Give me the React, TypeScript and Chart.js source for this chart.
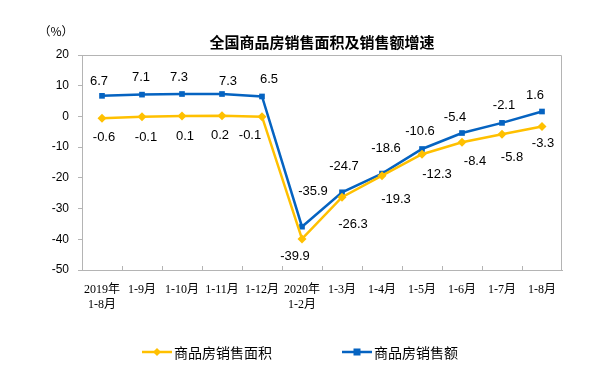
import React, { useEffect, useRef } from "react";
import { Chart, registerables } from "chart.js";

Chart.register(...registerables);

const categories: (string | string[])[] = [
  ["2019年", "1-8月"], "1-9月", "1-10月", "1-11月", "1-12月",
  ["2020年", "1-2月"], "1-3月", "1-4月", "1-5月", "1-6月", "1-7月", "1-8月",
];
const areaName = "商品房销售面积";
const amountName = "商品房销售额";
const areaValues = [-0.6, -0.1, 0.1, 0.2, -0.1, -39.9, -26.3, -19.3, -12.3, -8.4, -5.8, -3.3];
const amountValues = [6.7, 7.1, 7.3, 7.3, 6.5, -35.9, -24.7, -18.6, -10.6, -5.4, -2.1, 1.6];
const titleText = "全国商品房销售面积及销售额增速";
const unitText = "（%）";

const YELLOW = "#FFC000";
const BLUE = "#0563C1";
const GREY = "#B4B4B4";

// label offsets (style): [dx, dy] per point
const areaLabelOffsets = [[2, 19], [4, 21], [3, 20], [-2, 20], [-12, 19], [-7, 17], [11, 27], [14, 24], [15, 20], [13, 19], [10, 23], [1, 17]];
const amountLabelOffsets = [[-3, -14], [-1, -17], [-3, -17], [6, -13], [7, -17], [11, -35], [2, -26], [4, -25], [-2, -18], [-7, -16], [2, -17], [-7, -16]];

const decorPlugin = {
  id: "decor",
  afterDraw(chart: any) {
    const ctx = chart.ctx;
    const ca = chart.chartArea;
    const xs = chart.scales.x;
    ctx.save();
    // frame top and right
    ctx.strokeStyle = GREY;
    ctx.lineWidth = 1;
    ctx.beginPath();
    ctx.moveTo(ca.left, ca.top + 0.5);
    ctx.lineTo(ca.right - 0.5, ca.top + 0.5);
    ctx.lineTo(ca.right - 0.5, ca.bottom);
    ctx.stroke();
    // inner x ticks between categories
    const n = categories.length;
    const step = (ca.right - ca.left) / n;
    ctx.beginPath();
    for (let i = 1; i < n; i++) {
      const x = Math.round(xs.getPixelForValue(i) - step / 2) + 0.5;
      ctx.moveTo(x, ca.bottom);
      ctx.lineTo(x, ca.bottom - 4);
    }
    ctx.stroke();

    // data labels
    ctx.fillStyle = "#000";
    ctx.font = "13px 'Liberation Sans', Arial, sans-serif";
    ctx.textAlign = "center";
    ctx.textBaseline = "middle";
    const offs = [areaLabelOffsets, amountLabelOffsets];
    chart.data.datasets.forEach((ds: any, di: number) => {
      const meta = chart.getDatasetMeta(di);
      meta.data.forEach((pt: any, i: number) => {
        const [dx, dy] = offs[di][i];
        ctx.fillText(ds.data[i].toFixed(1), pt.x + dx, pt.y + dy);
      });
    });

    // title
    ctx.font = "bold 15px 'Noto Sans CJK SC', sans-serif";
    ctx.fillText(titleText, 322, 42);
    // unit
    ctx.font = "12px 'Noto Sans CJK SC', sans-serif";
    ctx.fillText(unitText, 56, 31);

    // legend
    const items = [
      { x: 142, color: YELLOW, shape: "diamond", label: areaName },
      { x: 342, color: BLUE, shape: "square", label: amountName },
    ];
    const ly = 352;
    ctx.font = "14px 'Noto Sans CJK SC', sans-serif";
    ctx.textAlign = "left";
    items.forEach((it) => {
      ctx.strokeStyle = it.color;
      ctx.fillStyle = it.color;
      ctx.lineWidth = 2.5;
      ctx.beginPath();
      ctx.moveTo(it.x, ly);
      ctx.lineTo(it.x + 30, ly);
      ctx.stroke();
      const cx = it.x + 15;
      ctx.beginPath();
      if (it.shape === "diamond") {
        ctx.moveTo(cx, ly - 4);
        ctx.lineTo(cx + 4, ly);
        ctx.lineTo(cx, ly + 4);
        ctx.lineTo(cx - 4, ly);
        ctx.closePath();
        ctx.fill();
      } else {
        ctx.fillRect(cx - 3.5, ly - 3.5, 7, 7);
      }
      ctx.fillStyle = "#000";
      ctx.fillText(it.label, it.x + 32, ly + 1);
    });
    ctx.restore();
  },
};

export default function App() {
  const ref = useRef<HTMLCanvasElement>(null);
  useEffect(() => {
    document.body.style.margin = "0";
    const chart = new Chart(ref.current!, {
      type: "line",
      data: {
        labels: categories,
        datasets: [
          {
            label: areaName,
            data: areaValues,
            borderColor: YELLOW,
            backgroundColor: YELLOW,
            borderWidth: 2.5,
            pointStyle: "rectRot",
            pointRadius: 4.5,
            pointBorderWidth: 0,
            tension: 0,
          },
          {
            label: amountName,
            data: amountValues,
            borderColor: BLUE,
            backgroundColor: BLUE,
            borderWidth: 2.5,
            pointStyle: "rect",
            pointRadius: 4,
            pointBorderWidth: 0,
            tension: 0,
          },
        ],
      },
      options: {
        animation: false,
        responsive: false,
        layout: { padding: { left: 0, right: 51, top: 55, bottom: 0 } },
        plugins: {
          legend: { display: false },
          title: { display: false },
          tooltip: { enabled: false },
        },
        scales: {
          x: {
            type: "category",
            offset: true,
            grid: { display: false, drawOnChartArea: false, drawTicks: false },
            border: { display: true, color: GREY, width: 1 },
            ticks: {
              color: "#000",
              padding: 12,
              maxRotation: 0,
              autoSkip: false,
              font: { family: "'Liberation Serif', 'Noto Sans CJK SC', serif", size: 12, lineHeight: "15px" },
            },
            afterFit(scale: any) {
              scale.height = 111;
            },
          },
          y: {
            min: -50,
            max: 20,
            ticks: {
              stepSize: 10,
              color: "#000",
              padding: 9,
              font: { family: "'Liberation Sans', Arial, sans-serif", size: 12 },
            },
            grid: { display: true, drawOnChartArea: false, drawTicks: true, tickLength: 4, color: GREY },
            border: { display: true, color: GREY, width: 1 },
            afterFit(scale: any) {
              scale.width = 82;
            },
          },
        },
      },
      plugins: [decorPlugin],
    } as any);
    return () => chart.destroy();
  }, []);
  return (
    <div style={{ position: "fixed", left: 0, top: 0, width: 613, height: 381, background: "#fff" }}>
      <canvas ref={ref} width={613} height={381} style={{ width: 613, height: 381 }} />
    </div>
  );
}
